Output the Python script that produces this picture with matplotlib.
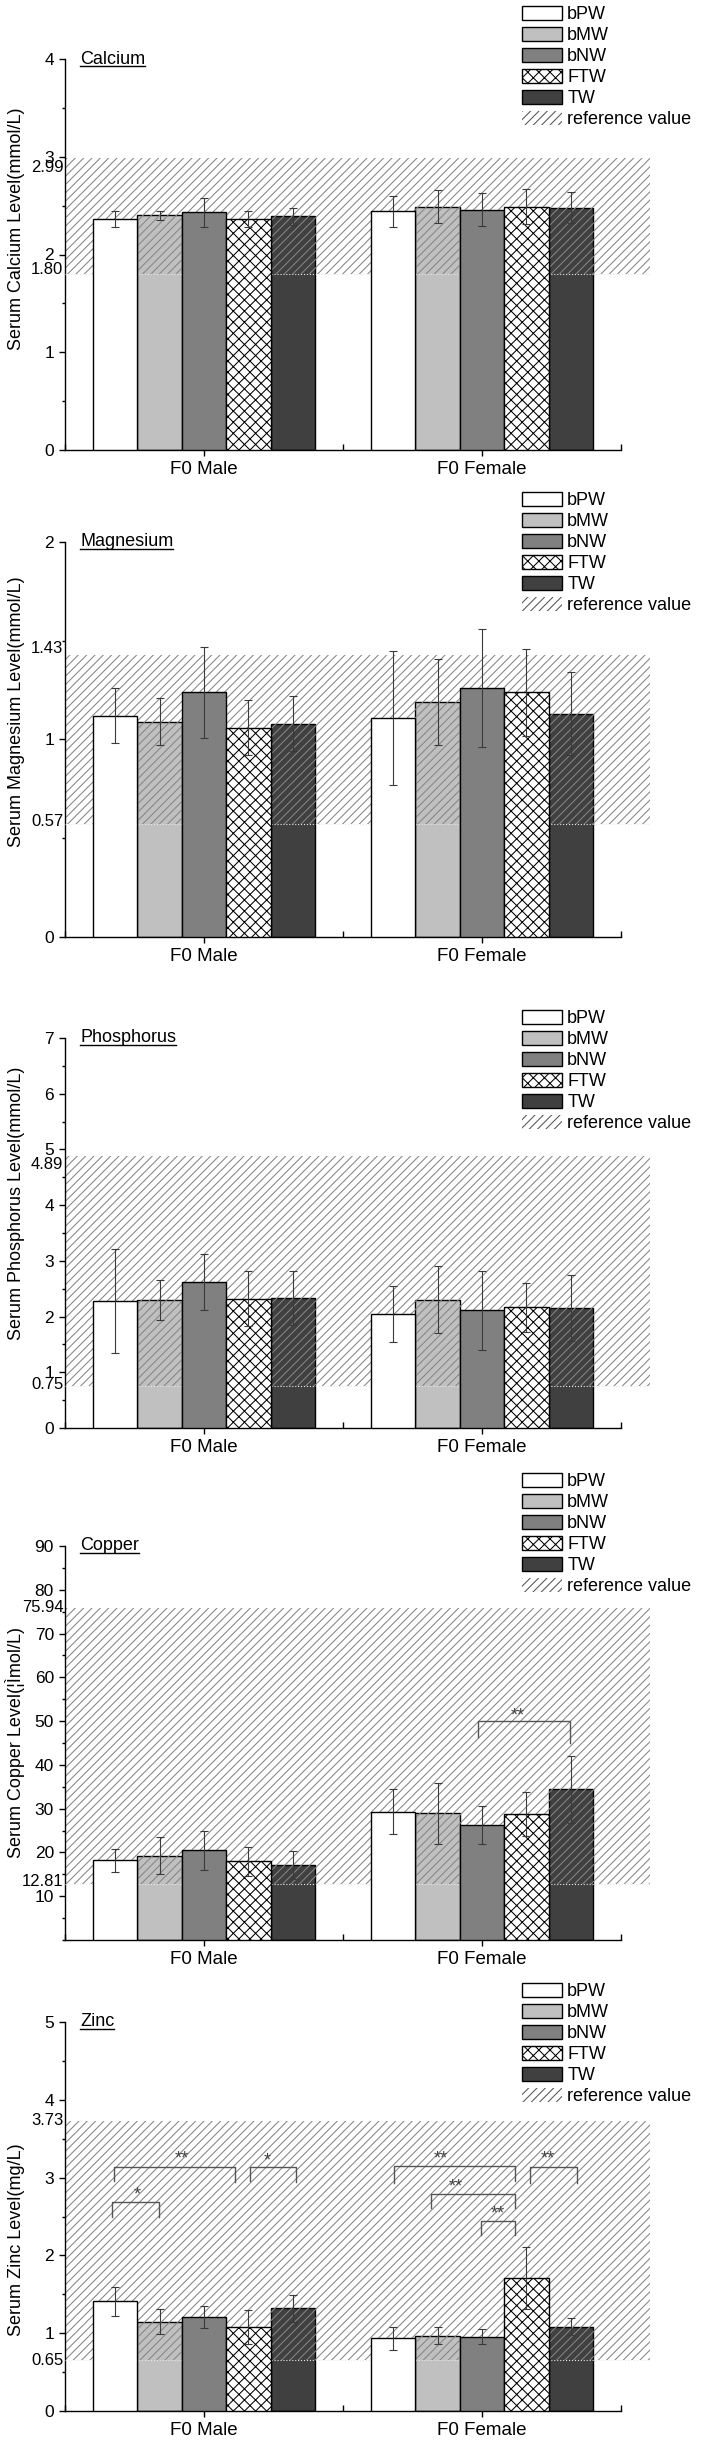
import matplotlib
matplotlib.use("Agg")
import matplotlib.pyplot as plt
import matplotlib.transforms as mtransforms
from matplotlib.patches import Rectangle, Patch
from matplotlib.lines import Line2D
from matplotlib.ticker import FixedLocator, MultipleLocator
import numpy as np

plt.rcParams["font.family"] = ["Liberation Sans", "DejaVu Sans"]
plt.rcParams["hatch.linewidth"] = 0.75

# groups and water types
groups = ["F0 Male", "F0 Female"]
waters = ["bPW", "bMW", "bNW", "FTW", "TW"]

# means / sd, rows = groups, cols = waters
calcium_mean = [[2.36, 2.40, 2.43, 2.36, 2.39], [2.44, 2.49, 2.46, 2.49, 2.48]]
calcium_sd = [[0.08, 0.05, 0.15, 0.08, 0.09], [0.16, 0.17, 0.165, 0.18, 0.16]]
magnesium_mean = [[1.12, 1.09, 1.24, 1.06, 1.08], [1.11, 1.19, 1.26, 1.24, 1.13]]
magnesium_sd = [[0.14, 0.12, 0.23, 0.14, 0.14], [0.34, 0.22, 0.30, 0.22, 0.21]]
phosphorus_mean = [[2.28, 2.29, 2.62, 2.32, 2.34], [2.04, 2.30, 2.11, 2.17, 2.16]]
phosphorus_sd = [[0.93, 0.36, 0.50, 0.49, 0.485], [0.50, 0.60, 0.71, 0.44, 0.59]]
copper_mean = [[18.2, 19.3, 20.5, 18.0, 17.2], [29.3, 28.9, 26.3, 28.8, 34.4]]
copper_sd = [[2.6, 4.2, 4.5, 3.3, 3.2], [5.2, 6.9, 4.3, 5.1, 7.6]]
zinc_mean = [[1.41, 1.15, 1.21, 1.08, 1.32], [0.935, 0.97, 0.956, 1.71, 1.085]]
zinc_sd = [[0.19, 0.16, 0.145, 0.22, 0.17], [0.15, 0.11, 0.10, 0.40, 0.11]]

# reference ranges
calcium_ref = (1.80, 2.99)
magnesium_ref = (0.57, 1.43)
phosphorus_ref = (0.75, 4.89)
copper_ref = (12.81, 75.94)
zinc_ref = (0.65, 3.73)

# significance brackets: x0, x1, top, left leg end, right leg end, label, text x, text y
copper_sig = [(1.984, 2.316, 50.1, 46.3, 45.1, "**", 2.13, 52.6)]
zinc_sig = [
    (0.676, 1.112, 3.14, 2.96, 2.94, "**", 0.919, 3.31),
    (1.167, 1.331, 3.14, 2.96, 2.94, "*", 1.227, 3.29),
    (0.669, 0.838, 2.69, 2.50, 2.50, "*", 0.76, 2.85),
    (1.684, 2.118, 3.15, 2.93, 2.95, "**", 1.851, 3.31),
    (1.818, 2.118, 2.79, 2.61, 2.61, "**", 1.906, 2.96),
    (1.995, 2.118, 2.44, 2.26, 2.26, "**", 2.057, 2.61),
    (2.172, 2.342, 3.13, 2.93, 2.93, "**", 2.238, 3.31),
]

colors = ["white", "#c0c0c0", "#808080", "white", "#404040"]
hatches = [None, None, None, "xxx", None]
over_ref = [True, False, True, True, False]  # bars drawn above the hatched band

W, H = 703, 2445
fig = plt.figure(figsize=(W / 100, H / 100), dpi=100)

panels = [
    # name, ylabel, mean, sd, ref, ylim, major ticks, minor step, top px, bottom px,
    # legend top px, label y, ref label shifts (px), sig
    ("Calcium", "Serum Calcium Level(mmol/L)", calcium_mean, calcium_sd, calcium_ref,
     (0, 4), [0, 1, 2, 3, 4], 0.5, 59, 450, 6, 0.565, (5, -10), []),
    ("Magnesium", "Serum Magnesium Level(mmol/L)", magnesium_mean, magnesium_sd, magnesium_ref,
     (0, 2), [0, 1, 2], 0.5, 542, 937, 492, 0.57, (3, 6), []),
    ("Phosphorus", "Serum Phosphorus Level(mmol/L)", phosphorus_mean, phosphorus_sd, phosphorus_ref,
     (0, 7), [0, 1, 2, 3, 4, 5, 6, 7], 0.5, 1038, 1428, 1010, 0.577, (2, -8.5), []),
    ("Copper", "Serum Copper Level(\u00a6\u00ccmol/L)", copper_mean, copper_sd, copper_ref,
     (0, 90), [10, 20, 30, 40, 50, 60, 70, 80, 90], 5, 1546, 1940, 1473, 0.5, (2, 0), copper_sig),
    ("Zinc", "Serum Zinc Level(mg/L)", zinc_mean, zinc_sd, zinc_ref,
     (0, 5), [0, 1, 2, 3, 4, 5], 0.5, 2022, 2411, 1983, 0.44, (0, 0), zinc_sig),
]

bw = 0.16
group_x = np.arange(1, len(groups) + 1)
titles = []

for (name, ylabel, mean, sd, ref, ylim, majors, mstep, top, bot, legtop, laby, shifts, sig) in panels:
    ax = fig.add_axes([65 / W, 1 - bot / H, 556 / W, (bot - top) / H])
    mean = np.array(mean)
    sd = np.array(sd)
    for j, w in enumerate(waters):
        xs = group_x + (j - 2) * bw
        ax.bar(xs, mean[:, j], bw, color=colors[j], edgecolor="black", linewidth=1.0,
               hatch=hatches[j], zorder=3 if over_ref[j] else 2)
        ax.errorbar(xs, mean[:, j], yerr=sd[:, j], fmt="none", ecolor="#3a3a3a",
                    elinewidth=0.8, capsize=3, capthick=0.8, zorder=5)

    band = Rectangle((0.5, ref[0]), 2.605 - 0.5, ref[1] - ref[0], facecolor="none",
                     edgecolor="#858585", linewidth=0, hatch="////", zorder=2.5, clip_on=False)
    ax.add_patch(band)
    ax.plot([0.5, 2.605], [ref[0], ref[0]], ls=":", color="#e8e8e8", lw=0.8, zorder=2.6,
            clip_on=False)

    ax.set_xlim(0.5, 2.5)
    ax.set_ylim(*ylim)
    ax.xaxis.set_major_locator(FixedLocator(group_x))
    ax.set_xticklabels(groups, fontsize=13.5)
    ax.xaxis.set_minor_locator(FixedLocator([0.5, 1.5, 2.5]))
    ax.yaxis.set_major_locator(FixedLocator(majors))
    ax.set_yticklabels([str(m) for m in majors], fontsize=12.5)
    ax.yaxis.set_minor_locator(MultipleLocator(mstep))
    ax.tick_params(axis="x", which="major", direction="out", length=4, width=1, pad=4)
    ax.tick_params(axis="x", which="minor", direction="in", length=4, width=1)
    ax.tick_params(axis="y", which="major", direction="out", length=4, width=1, pad=4)
    ax.tick_params(axis="y", which="minor", direction="out", length=2.5, width=1)
    for s in ["top", "right"]:
        ax.spines[s].set_visible(False)
    for s in ["left", "bottom"]:
        ax.spines[s].set_linewidth(1.0)

    ax.set_ylabel(ylabel, fontsize=13)
    ax.yaxis.set_label_coords(-0.072, laby)

    # reference bound labels next to the axis
    trans = mtransforms.blended_transform_factory(ax.transAxes, ax.transData)
    for v, dy in zip(ref, shifts):
        ax.annotate("%.2f" % v, (-0.003, v), xycoords=trans, xytext=(0, dy * 0.72),
                    textcoords="offset points", ha="right", va="center", fontsize=12,
                    annotation_clip=False)

    t = ax.text(0.027, 1.0, name, transform=ax.transAxes, ha="left", va="center", fontsize=13)
    titles.append(t)

    for (x0, x1, yt, yl, yr, lab, tx, ty) in sig:
        ax.plot([x0, x0, x1, x1], [yl, yt, yt, yr], color="#555555", lw=1.0, zorder=6)
        ax.annotate(lab, (tx, ty), xytext=(0, -7.5), textcoords="offset points",
                    ha="center", va="baseline", fontsize=13, color="#444444", zorder=6)

    handles = [Patch(facecolor=colors[j], edgecolor="black", linewidth=1.0, hatch=hatches[j])
               for j in range(len(waters))]
    handles.append(Patch(facecolor="none", edgecolor="#555555", linewidth=0, hatch="////"))
    ax.legend(handles, waters + ["reference value"], loc="upper left",
              bbox_to_anchor=(522 / W, 1 - legtop / H), bbox_transform=fig.transFigure,
              frameon=False, fontsize=13, handlelength=2.2, handleheight=0.78,
              labelspacing=0.22, handletextpad=0.3, borderpad=0, borderaxespad=0)

# underline the panel names
fig.canvas.draw()
inv = fig.transFigure.inverted()
for t in titles:
    bb = t.get_window_extent().transformed(inv)
    fig.add_artist(Line2D([bb.x0, bb.x1], [bb.y0 + 1.5 / H, bb.y0 + 1.5 / H],
                          transform=fig.transFigure, color="black", lw=1.0))

fig.savefig("out.png", dpi=100)
